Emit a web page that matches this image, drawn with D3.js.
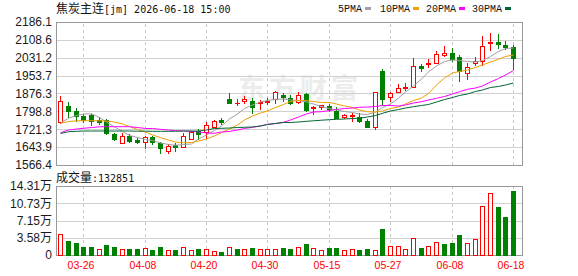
<html>
  <head>
    <meta charset="utf-8">
    <script src="https://d3js.org/d3.v7.min.js"></script>
    <style>
      body { margin: 0; background: #fff; }
    </style>
  </head>

  <body>
    <div id="vis"></div>
  </body>

  <script>
    // trading days (categories)
    var dates = ["03-23","03-24","03-25","03-26","03-27","03-30","03-31","04-01","04-02","04-03",
                 "04-07","04-08","04-09","04-10","04-13","04-14","04-15","04-16","04-17","04-20",
                 "04-21","04-22","04-23","04-24","04-27","04-28","04-29","04-30","05-06","05-07",
                 "05-08","05-11","05-12","05-13","05-14","05-15","05-18","05-19","05-20","05-21",
                 "05-22","05-25","05-26","05-27","05-28","05-29","06-01","06-02","06-03","06-04",
                 "06-05","06-08","06-09","06-10","06-11","06-12","06-15","06-16","06-17","06-18"]

    var open = [1751.4,1822.1,1800.4,1778.7,1781.8,1761.4,1761.4,1700.7,1660.4,1690.8,
                1674.7,1666.1,1686.5,1661.7,1628.4,1651.9,1646.0,1680.4,1712.5,1710.8,
                1732.4,1761.4,1852.4,1833.8,1842.4,1842.4,1836.4,1838.1,1851.1,1871.0,
                1855.4,1838.1,1872.8,1814.7,1819.0,1822.0,1800.4,1775.7,1778.7,1773.1,
                1758.4,1732.4,1972.4,1862.4,1884.1,1900.1,1905.7,1996.7,2004.1,2007.1,
                2044.4,2050.5,2033.1,1963.8,2009.7,2018.4,2093.8,2100.7,2087.7,2076.4]
    var high = [1865.4,1838.1,1814.7,1786.1,1786.1,1773.1,1764.4,1703.7,1703.7,1700.7,
                1683.4,1690.8,1692.1,1667.4,1656.2,1659.9,1705.0,1713.8,1721.1,1754.1,
                1760.1,1768.4,1877.1,1851.1,1865.4,1856.8,1848.1,1856.8,1887.1,1879.7,
                1869.7,1884.1,1877.1,1822.1,1826.4,1829.4,1816.4,1786.1,1793.1,1790.5,
                1764.4,1881.5,1982.4,1882.8,1917.4,1920.4,2028.8,2004.1,2024.5,2061.7,
                2082.1,2072.1,2043.1,2007.1,2033.1,2125.4,2139.7,2134.1,2105.1,2086.4]
    var low = [1747.1,1773.1,1758.4,1751.7,1738.7,1744.8,1700.7,1674.7,1660.4,1664.8,
               1660.4,1641.0,1657.8,1619.7,1618.4,1628.4,1645.1,1680.4,1680.4,1682.1,
               1732.4,1743.1,1836.4,1825.1,1836.4,1793.1,1810.4,1829.4,1836.4,1842.4,
               1830.8,1833.8,1801.7,1787.4,1807.8,1801.7,1768.8,1771.4,1758.4,1754.1,
               1729.8,1721.1,1826.4,1845.1,1884.1,1891.4,1905.7,1975.1,1992.4,2007.1,
               2038.8,2018.4,1931.7,1940.4,1999.7,2001.0,2064.8,2072.1,2067.8,1983.7]
    var close = [1845.1,1801.7,1780.0,1761.4,1758.4,1752.7,1703.7,1677.7,1692.1,1670.4,
                 1666.1,1686.5,1667.4,1642.2,1648.8,1644.6,1692.1,1709.4,1700.7,1739.8,
                 1757.1,1752.7,1836.4,1836.4,1853.7,1819.0,1839.4,1842.4,1882.8,1862.4,
                 1833.8,1869.7,1804.7,1819.0,1826.4,1807.1,1771.4,1783.1,1783.1,1758.4,
                 1732.4,1881.5,1852.4,1879.7,1898.8,1905.7,1995.4,1985.4,2009.7,2047.4,
                 2050.5,2024.5,1973.8,1989.8,2017.1,2080.8,2099.4,2092.1,2079.1,2030.1]

    // moving averages as drawn
    var ma5 = [1748.4,1768.8,1781.0,1787.4,1788.3,1772.2,1752.7,1731.1,1711.6,1694.2,
               1685.6,1676.9,1672.6,1661.8,1655.2,1651.8,1655.2,1657.4,1679.1,1696.4,
               1715.9,1735.4,1765.7,1787.4,1811.3,1826.4,1839.4,1845.9,1851.1,1852.4,
               1848.1,1845.9,1839.4,1830.7,1819.9,1811.3,1804.7,1798.2,1793.9,1787.4,
               1785.2,1796.1,1815.6,1830.7,1856.7,1882.8,1908.8,1939.1,1969.4,1995.4,
               2014.9,2021.4,2019.3,2014.9,2012.7,2019.3,2036.6,2058.3,2071.3,2073.4]
    var ma10 = [1747.1,1754.9,1757.9,1758.4,1758.4,1757.9,1757.1,1752.7,1744.1,1733.2,
                1720.2,1709.4,1696.4,1685.6,1674.7,1666.1,1663.0,1663.9,1670.4,1679.1,
                1692.1,1707.2,1722.4,1739.7,1761.4,1778.7,1791.7,1800.4,1815.6,1828.6,
                1841.6,1845.9,1845.9,1841.6,1837.3,1837.3,1830.7,1822.1,1815.6,1804.7,
                1797.4,1796.1,1800.4,1811.3,1817.8,1830.7,1845.9,1856.7,1876.2,1913.1,
                1943.4,1965.1,1971.6,1978.1,1988.9,1999.8,2012.8,2024.5,2036.6,2043.1]
    var ma20 = [1706.4,1718.1,1722.4,1725.4,1728.9,1731.9,1732.4,1732.4,1732.4,1732.4,
                1728.9,1724.6,1724.6,1721.1,1718.1,1715.0,1713.7,1712.4,1709.4,1705.1,
                1703.8,1709.4,1711.6,1718.1,1724.6,1729.8,1735.4,1742.8,1746.3,1751.4,
                1761.4,1774.4,1787.4,1796.1,1797.4,1802.6,1806.9,1811.3,1813.4,1816.4,
                1817.7,1819.9,1824.2,1824.2,1822.1,1826.4,1835.1,1840.7,1848.1,1855.4,
                1863.3,1874.1,1884.0,1894.5,1900.1,1908.7,1926.1,1941.3,1956.4,1975.9]
    var ma30 = [1702.9,1710.7,1712.4,1713.7,1713.7,1713.7,1713.7,1713.7,1713.7,1713.7,
                1712.9,1712.9,1712.4,1712.4,1712.4,1712.9,1713.7,1713.7,1713.7,1718.1,
                1724.6,1725.4,1726.7,1728.9,1729.8,1731.1,1735.4,1741.9,1746.3,1750.6,
                1750.6,1752.7,1755.8,1757.9,1760.5,1762.7,1764.4,1765.7,1767.9,1768.8,
                1774.4,1780.9,1790.4,1800.4,1806.9,1813.4,1819.1,1824.2,1828.6,1839.4,
                1850.2,1858.9,1867.6,1874.1,1884.9,1891.4,1902.3,1906.6,1913.1,1921.8]

    var volume = [44200,28200,24000,15800,15800,12400,21400,15800,12400,13000,
                  11600,14500,11000,15800,11000,9500,16600,11000,11600,13000,
                  8900,6900,17200,13000,13000,15200,12400,13000,13000,15200,
                  13000,17200,22000,15200,11000,13700,15200,11000,13000,11000,
                  13000,10400,54500,18700,18700,12400,35300,15200,18700,27600,
                  23400,25500,42100,25500,33200,102200,128600,100200,79400,132851]
    // 1 = red (up) bar, 0 = green bar, as coloured in the chart
    var volUp = [1,0,0,0,0,1,0,0,1,0, 0,1,0,0,1,0,1,1,0,1,
                 1,0,1,0,1,0,1,1,1,0, 0,1,0,1,1,0,0,1,1,0,
                 0,1,0,1,1,1,1,0,1,1, 0,0,0,1,1,1,1,0,0,0]

    var priceTicks = [1566.4, 1643.9, 1721.3, 1798.8, 1876.3, 1953.7, 2031.2, 2108.6, 2186.1]
    var volTicks = [0, 35800, 71500, 107300, 143100]
    var volTickLabels = ["0", "3.58万", "7.15万", "10.73万", "14.31万"]
    var dateTicks = ["03-26","04-08","04-20","04-30","05-15","05-27","06-08","06-18"]

    var maNames = ["5PMA", "10PMA", "20PMA", "30PMA"]
    var maColors = ["#a0a0a0", "#f0a000", "#ff00ff", "#006633"]

    var RED = "#ff0000", GREEN = "#008000"
    var CJK = "'Noto Sans CJK SC'"

    // layout
    var left = 56, right = 522
    var pTop = 22, pBot = 165
    var vTop = 186, vBot = 255

    var svg = d3.select("#vis")
      .append("svg")
      .attr("width", 578)
      .attr("height", 276)

    var x = d3.scaleBand()
      .domain(dates)
      .range([56.5, 516.7])
      .paddingInner(0.35)
      .paddingOuter(0.175)
    function cx(i) { return Math.round(x(dates[i]) + x.bandwidth() / 2) }

    var yp = d3.scaleLinear().domain([1566.4, 2186.1]).range([pBot, pTop])
    var yv = d3.scaleLinear().domain([0, 143100]).range([vBot, vTop])

    // watermark
    svg.append("text")
      .attr("x", 238)
      .attr("y", 98)
      .style("font-family", CJK)
      .style("font-size", "27px")
      .style("font-weight", "bold")
      .style("letter-spacing", "4px")
      .style("fill", "#ececec")
      .text("东方财富")

    // price grid + labels
    var pAxis = svg.append("g")
      .attr("transform", "translate(" + left + ",0)")
      .call(d3.axisLeft(yp).tickValues(priceTicks).tickSize(-(right - left)).tickPadding(4)
        .tickFormat(function(d) { return d.toFixed(1) }))
    pAxis.select(".domain").remove()
    pAxis.selectAll("line").attr("stroke", "#d0d0d0").attr("shape-rendering", "crispEdges")
    pAxis.selectAll("text")
      .style("font-family", "'Liberation Sans', Arial")
      .style("font-size", "12px")
      .attr("fill", "#1a1a1a")

    // volume grid + labels
    var vAxis = svg.append("g")
      .attr("transform", "translate(" + left + ",0)")
      .call(d3.axisLeft(yv).tickValues(volTicks).tickSize(-(right - left)).tickPadding(4)
        .tickFormat(function(d, i) { return volTickLabels[i] }))
    vAxis.select(".domain").remove()
    vAxis.selectAll("line").attr("stroke", "#d0d0d0").attr("shape-rendering", "crispEdges")
    vAxis.selectAll("text")
      .style("font-family", "'Liberation Sans', Arial, " + CJK)
      .style("font-size", "12px")
      .attr("fill", "#1a1a1a")

    // vertical dashed grid in both panels
    ;[[pTop, pBot], [vTop, vBot]].forEach(function(p) {
      var g = svg.append("g")
        .attr("transform", "translate(0," + p[1] + ")")
        .call(d3.axisBottom(x).tickValues(dateTicks).tickSize(-(p[1] - p[0])).tickFormat(""))
      g.select(".domain").remove()
      g.selectAll(".tick").attr("transform", function(d) {
        return "translate(" + (cx(dates.indexOf(d)) + 0.5) + ",0)"
      })
      g.selectAll("line")
        .attr("stroke", "#c8c8c8")
        .attr("stroke-dasharray", "3,3")
        .attr("shape-rendering", "crispEdges")
    })

    // date labels
    var dAxis = svg.append("g")
      .attr("transform", "translate(0," + vBot + ")")
      .call(d3.axisBottom(x).tickValues(dateTicks).tickSize(0).tickPadding(7))
    dAxis.select(".domain").remove()
    dAxis.selectAll(".tick").attr("transform", function(d) {
      return "translate(" + (cx(dates.indexOf(d)) - 2) + ",0)"
    })
    dAxis.selectAll("text")
      .style("font-family", "'Liberation Sans', Arial")
      .style("font-size", "10.5px")
      .attr("fill", RED)

    // panel borders
    svg.append("rect")
      .attr("x", left + 0.5).attr("y", pTop + 0.5)
      .attr("width", right - left).attr("height", pBot - pTop)
      .attr("fill", "none").attr("stroke", "#999")
    svg.append("rect")
      .attr("x", left + 0.5).attr("y", vTop + 0.5)
      .attr("width", right - left).attr("height", vBot - vTop)
      .attr("fill", "none").attr("stroke", "#999")

    // candles
    var idx = d3.range(dates.length)
    var candles = svg.append("g").attr("shape-rendering", "crispEdges")
    idx.forEach(function(i) {
      var up = close[i] >= open[i]
      var col = up ? RED : GREEN
      var c = cx(i)
      candles.append("line")
        .attr("x1", c + 0.5).attr("x2", c + 0.5)
        .attr("y1", Math.round(yp(high[i]))).attr("y2", Math.round(yp(low[i])) + 1)
        .attr("stroke", col)
      var top = Math.round(yp(Math.max(open[i], close[i])))
      var bot = Math.round(yp(Math.min(open[i], close[i])))
      if (bot - top < 1) {
        candles.append("line")
          .attr("x1", c - 2).attr("x2", c + 3)
          .attr("y1", top + 0.5).attr("y2", top + 0.5)
          .attr("stroke", col)
      } else {
        candles.append("rect")
          .attr("x", c - 1.5).attr("y", top + 0.5)
          .attr("width", 4).attr("height", bot - top)
          .attr("fill", up ? "#fff" : GREEN)
          .attr("stroke", col)
      }
    })

    // moving average lines
    ;[ma5, ma10, ma20, ma30].forEach(function(ma, k) {
      svg.append("path")
        .datum(ma)
        .attr("fill", "none")
        .attr("stroke", maColors[k])
        .attr("stroke-width", 1)
        .attr("d", d3.line()
          .x(function(d, i) { return cx(i) + 0.5 })
          .y(function(d) { return yp(d) }))
    })

    // volume bars
    var vols = svg.append("g").attr("shape-rendering", "crispEdges")
    idx.forEach(function(i) {
      var c = cx(i)
      var top = Math.round(yv(volume[i]))
      vols.append("rect")
        .attr("x", c - 1.5).attr("y", top + 0.5)
        .attr("width", 4).attr("height", vBot - top)
        .attr("fill", volUp[i] ? "#fff" : GREEN)
        .attr("stroke", volUp[i] ? RED : GREEN)
    })

    // title
    var title = svg.append("text").attr("x", left).attr("y", 13).attr("fill", "#111")
    title.append("tspan").style("font-family", CJK).style("font-size", "12px").text("焦炭主连")
    title.append("tspan").style("font-family", "'DejaVu Sans Mono', monospace").style("font-size", "10px")
      .text("[jm] 2026-06-18 15:00")

    // volume caption
    var cap = svg.append("text").attr("x", left).attr("y", 182).attr("fill", "#111")
    cap.append("tspan").style("font-family", CJK).style("font-size", "12px").text("成交量")
    cap.append("tspan").style("font-family", "'DejaVu Sans Mono', monospace").style("font-size", "10px")
      .text(":" + volume[volume.length - 1])

    // legend
    var legX = [338, 380, 426, 472]
    var leg = svg.append("g")
    maNames.forEach(function(n, k) {
      var t = leg.append("text")
        .attr("x", legX[k]).attr("y", 12)
        .style("font-family", "'Liberation Mono', monospace")
        .style("font-size", "10px")
        .attr("fill", "#111")
        .text(n)
      var w = n.length * 6
      leg.append("rect")
        .attr("x", legX[k] + w + 3).attr("y", 7)
        .attr("width", 6).attr("height", 3)
        .attr("fill", maColors[k])
    })
  </script>
</html>
